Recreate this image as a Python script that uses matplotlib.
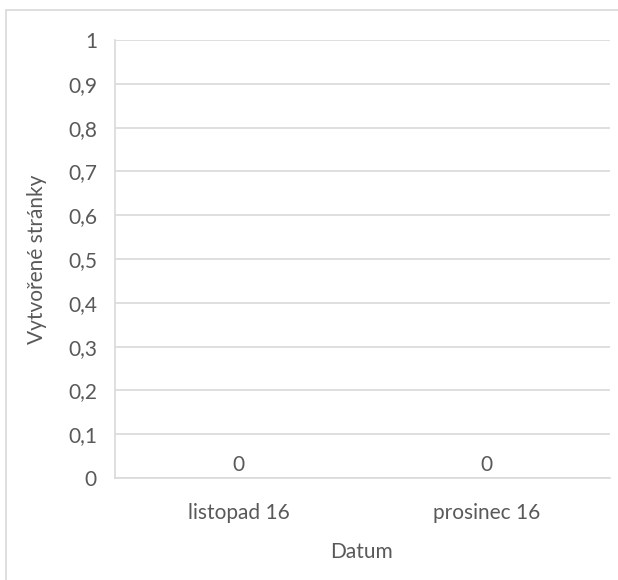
import matplotlib
matplotlib.use("Agg")
import matplotlib.pyplot as plt
from matplotlib.patches import Rectangle

categories = ["listopad 16", "prosinec 16"]
values = [0, 0]
y_ticks = [0, 0.1, 0.2, 0.3, 0.4, 0.5, 0.6, 0.7, 0.8, 0.9, 1]
y_tick_labels = ["0", "0,1", "0,2", "0,3", "0,4", "0,5", "0,6", "0,7", "0,8", "0,9", "1"]
x_title = "Datum"
y_title = "Vytvořené stránky"

plt.rcParams['font.family'] = ['Lato', 'DejaVu Sans']
TXT = "#595959"
GRID = "#d9d9d9"
FS = 15

W, H = 618, 580
fig = plt.figure(figsize=(W / 100, H / 100), dpi=100)

# outer chart border (left/top visible, extends past right/bottom)
fig.patches.append(Rectangle((6 / W, -0.1), 1.2, 1 - 10 / H + 0.1, transform=fig.transFigure,
                             fill=False, edgecolor=GRID, linewidth=1.2))

left, right, top, bottom = 115, 610, 40, 478
ax = fig.add_axes([left / W, 1 - bottom / H, (right - left) / W, (bottom - top) / H])

x = list(range(len(categories)))
bars = ax.bar(x, values, width=0.6, color="#4472c4")
ax.set_xlim(-0.5, len(categories) - 0.5)
ax.set_ylim(0, 1)
ax.set_yticks(y_ticks)
ax.set_yticklabels(y_tick_labels)
ax.set_xticks(x)
ax.set_xticklabels(categories)
ax.tick_params(axis='both', length=0, labelsize=FS, colors=TXT)
ax.tick_params(axis='y', pad=13)
ax.tick_params(axis='x', pad=18)
ax.grid(axis='y', color=GRID, linewidth=1.2)
ax.set_axisbelow(True)
for s in ["top", "right"]:
    ax.spines[s].set_visible(False)
ax.spines["left"].set_color(GRID)
ax.spines["bottom"].set_color(GRID)
ax.spines["left"].set_linewidth(1.2)
ax.spines["bottom"].set_linewidth(1.2)

for xi, v in zip(x, values):
    ax.annotate(f"{v}".replace(".", ","), (xi, v), xytext=(0, 2), textcoords="offset points",
                ha="center", va="bottom", fontsize=FS, color=TXT)

fig.text(362 / W, 1 - 552 / H, x_title, ha="center", va="center", fontsize=FS, color=TXT)
fig.text(37 / W, 1 - 259 / H, y_title, ha="center", va="center", rotation=90, fontsize=FS, color=TXT)

fig.savefig("out.png", dpi=100)
